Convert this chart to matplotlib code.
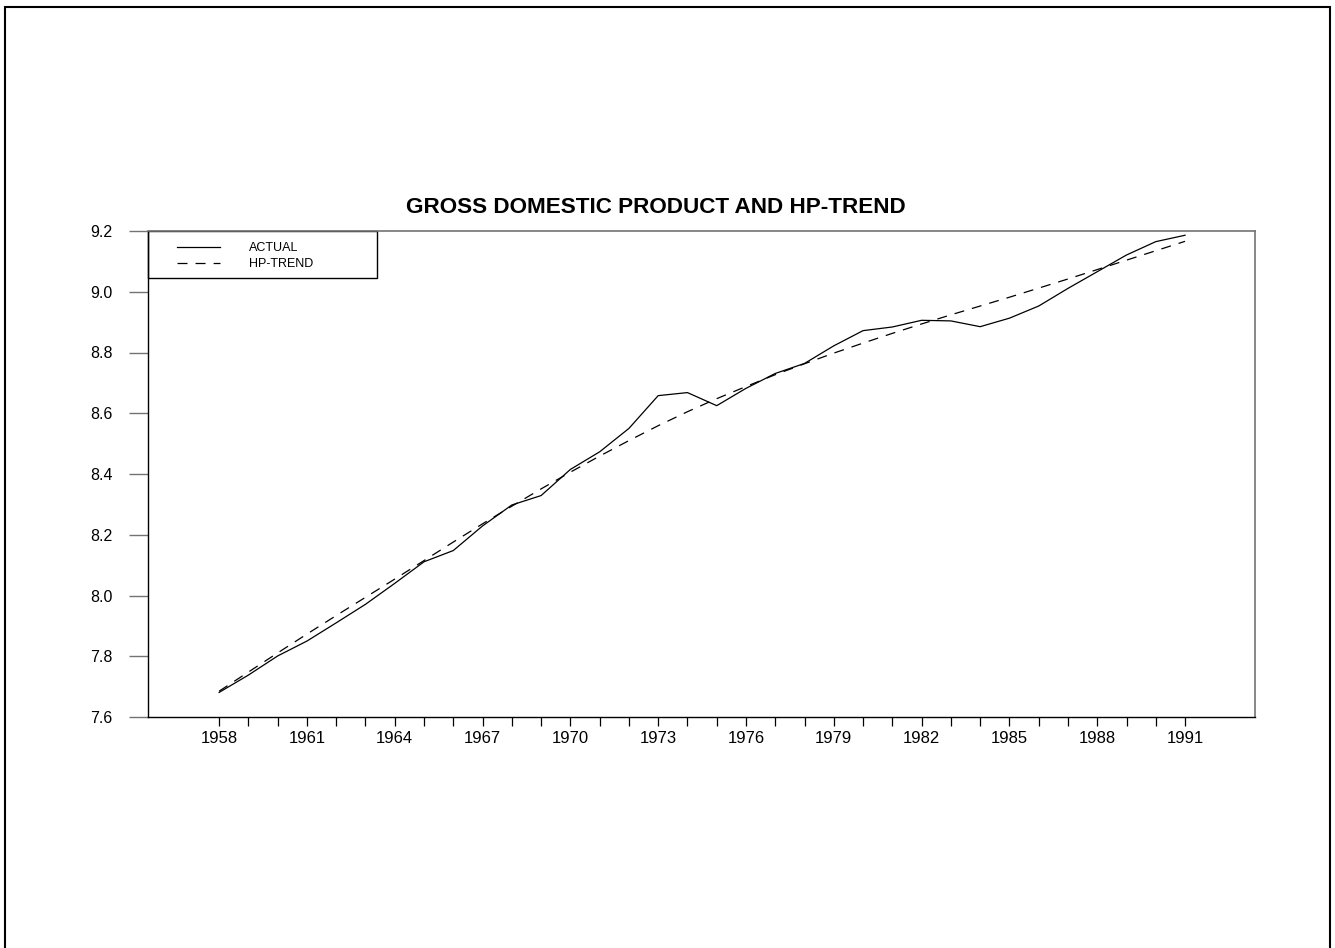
import matplotlib
matplotlib.use('Agg')
import matplotlib.pyplot as plt
from matplotlib.patches import Rectangle
from matplotlib.ticker import FixedLocator, FormatStrFormatter, MultipleLocator

plt.rcParams['font.family'] = ['Liberation Sans', 'DejaVu Sans']
plt.rcParams['lines.scale_dashes'] = False

# log real GDP and its Hodrick-Prescott trend, yearly
annees = list(range(1958, 1992))
actual = [7.681, 7.738, 7.801, 7.850, 7.910, 7.971, 8.040, 8.111, 8.148, 8.229,
          8.298, 8.329, 8.415, 8.473, 8.550, 8.658, 8.668, 8.625, 8.682, 8.731,
          8.764, 8.822, 8.872, 8.884, 8.906, 8.904, 8.885, 8.913, 8.953, 9.011,
          9.066, 9.121, 9.165, 9.186]
hp_trend = [7.685, 7.748, 7.811, 7.873, 7.934, 7.994, 8.054, 8.115, 8.176, 8.236,
            8.294, 8.351, 8.406, 8.459, 8.510, 8.559, 8.605, 8.648, 8.688, 8.727,
            8.763, 8.798, 8.831, 8.863, 8.894, 8.924, 8.953, 8.982, 9.012, 9.042,
            9.073, 9.104, 9.135, 9.166]
noms = ['ACTUAL', 'HP-TREND']
annees_label = annees[::3]

fig = plt.figure(figsize=(13.35, 9.48), dpi=100)
ax = fig.add_axes([148/1335, 231/948, 1107/1335, 486/948])

ax.plot(annees, actual, color='black', lw=0.9, label=noms[0])
ax.plot(annees, hp_trend, color='black', lw=0.9, dashes=(7.2, 5.8), label=noms[1])

ax.set_xlim(1955.57, 1993.39)
ax.set_ylim(7.6, 9.2)
ax.xaxis.set_major_locator(FixedLocator(annees_label))
ax.xaxis.set_minor_locator(FixedLocator([a for a in annees if a not in annees_label]))
ax.yaxis.set_major_locator(MultipleLocator(0.2))
ax.yaxis.set_major_formatter(FormatStrFormatter('%.1f'))

ax.tick_params(axis='x', which='both', direction='out', length=6.5, width=0.9,
               color='black', labelsize=12, pad=3.5)
ax.tick_params(axis='y', direction='out', length=13.5, width=1.0,
               color='0.45', labelsize=11.5, pad=12)

for cote in ['left', 'bottom']:
    ax.spines[cote].set_color('black')
    ax.spines[cote].set_linewidth(1.0)
for cote in ['top', 'right']:
    ax.spines[cote].set_color('0.45')
    ax.spines[cote].set_linewidth(1.2)

ax.set_title('GROSS DOMESTIC PRODUCT AND HP-TREND', fontsize=16.2,
             fontweight='bold', x=0.459, pad=13)

# legend box in the upper left corner
ax.add_patch(Rectangle((0, 1 - 47/486), 229/1107, 47/486, transform=ax.transAxes,
                       fill=False, edgecolor='black', lw=1.0, clip_on=False))
leg = ax.legend(loc='upper left', bbox_to_anchor=(29/1107, 1 - 11/486),
                frameon=False, fontsize=9, borderpad=0, borderaxespad=0,
                handlelength=3.45, handletextpad=2.3, labelspacing=0.35)

# frame round the whole page
fig.patches.append(Rectangle((5/1335, -0.02), 1324.5/1335, 1.02 - 6.5/948,
                             transform=fig.transFigure, fill=False,
                             edgecolor='black', lw=1.5))

fig.savefig('out.png', dpi=100)
